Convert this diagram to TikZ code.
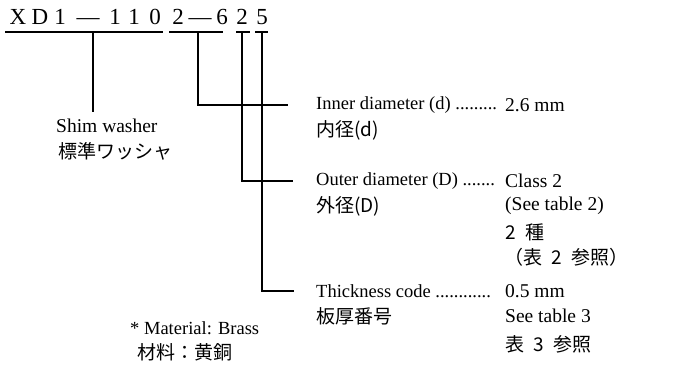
\documentclass[tikz,border=0pt]{standalone}
\usepackage{fontspec}
\setmainfont{Liberation Serif}
\newfontfamily\jpfont{Noto Sans CJK JP}
\usetikzlibrary{calc}
\newcommand{\jsp}{\hspace{0.5em}}

\begin{document}
\begin{tikzpicture}[x=1pt, y=-1pt,
  lbl/.style={anchor=west, inner sep=0pt, font=\fontsize{18.5}{21}\selectfont},
  val/.style={anchor=west, inner sep=0pt, font=\fontsize{19.5}{21}\selectfont},
  jlbl/.style={anchor=west, inner sep=0pt, font=\fontsize{19}{21}\jpfont},
  code/.style={anchor=base, inner sep=0pt, font=\fontsize{23}{25}\selectfont},
  lead/.style={line width=1.2pt}]
  \useasboundingbox (0,0) rectangle (680,385);
  % part number
  \foreach \ch/\xx [count=\i] in {X/18, D/40, 1/60, {—}/88, 1/115, 1/134, 0/155, 2/178, {—}/200, 6/222, 2/242, 5/262}
    \node[code] (c\i) at (\xx, 25) {\ch};
  \draw[lead] (5,32) -- (163,32);
  \draw[lead] (169,32) -- (223,32);
  \draw[lead] (236,32) -- (250,32);
  \draw[lead] (255,32) -- (268,32);
  \coordinate (tShim) at (93,32);
  \coordinate (tInner) at (198,32);
  \coordinate (tOuter) at (242,32);
  \coordinate (tThick) at (262,32);
  \coordinate (eShim) at (93,112);
  % labels
  \node[val] (shim) at (56,126) {Shim washer};
  \node[jlbl] (shimj) at (58,151) {標準ワッシャ};
  \node[lbl] (inner) at (316,105) {Inner diameter (d) .........};
  \node[val] (innerv) at (505,105) {2.6 mm};
  \node[jlbl] (innerj) at (316,130) {内径(d)};
  \node[lbl] (outer) at (316,181) {Outer diameter (D) .......};
  \node[val] (outerv) at (505,181) {Class 2};
  \node[jlbl] (outerj) at (316,206) {外径(D)};
  \node[val] (outerw) at (505,206) {(See table 2)};
  \node[jlbl] (outerk) at (505,232) {2\jsp 種};
  \node[jlbl] (outerl) at (504,257) {（表\jsp 2\jsp 参照）};
  \node[lbl] (thick) at (316,291) {Thickness code ............};
  \node[val] (thickv) at (505,291) {0.5 mm};
  \node[jlbl] (thickj) at (316,316) {板厚番号};
  \node[val] (thickw) at (505,316) {See table 3};
  \node[jlbl] (thickk) at (505,344) {表\jsp 3\jsp 参照};
  \node[lbl] (mat) at (130,328) {* Material: Brass};
  \node[jlbl] (matj) at (137,352) {材料：黄銅};
  % leaders
  \draw[lead] (tShim) -- (eShim);
  \draw[lead] (tInner) |- ([xshift=-28pt]inner.west);
  \draw[lead] (tOuter) |- ([xshift=-23pt]outer.west);
  \draw[lead] (tThick) |- ([xshift=-22pt]thick.west);
\end{tikzpicture}
\end{document}
